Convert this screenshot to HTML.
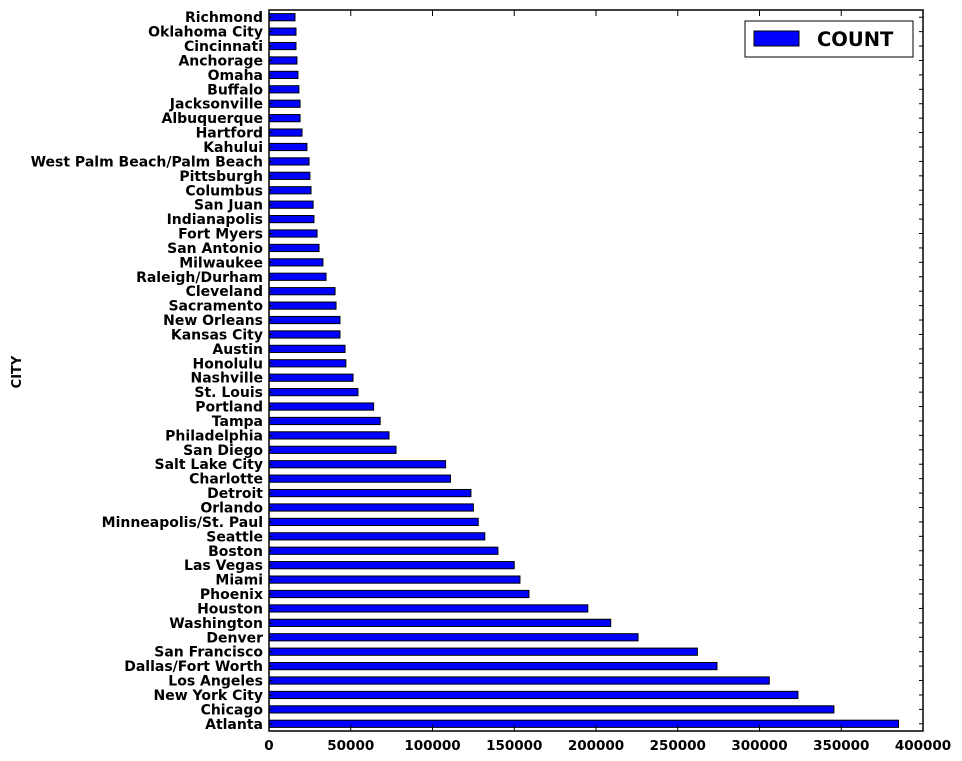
<!DOCTYPE html>
<html><head><meta charset="utf-8"><style>
html,body{margin:0;padding:0;background:#fff;}
svg{display:block;font-family:"DejaVu Sans",sans-serif;}
</style></head><body>
<svg id="chart" width="962" height="761"></svg>
<script>
const categories=["Atlanta","Chicago","New York City","Los Angeles","Dallas/Fort Worth","San Francisco","Denver","Washington","Houston","Phoenix","Miami","Las Vegas","Boston","Seattle","Minneapolis/St. Paul","Orlando","Detroit","Charlotte","Salt Lake City","San Diego","Philadelphia","Tampa","Portland","St. Louis","Nashville","Honolulu","Austin","Kansas City","New Orleans","Sacramento","Cleveland","Raleigh/Durham","Milwaukee","San Antonio","Fort Myers","Indianapolis","San Juan","Columbus","Pittsburgh","West Palm Beach/Palm Beach","Kahului","Hartford","Albuquerque","Jacksonville","Buffalo","Omaha","Anchorage","Cincinnati","Oklahoma City","Richmond"];
const counts=[385000,345500,323500,306000,274000,262000,225700,209000,195000,159000,153500,150000,140000,132000,128000,125000,123500,111000,108000,77700,73400,68000,64000,54400,51400,47000,46500,43400,43400,41000,40400,34900,33000,30600,29400,27500,27000,25700,25000,24500,23200,20200,19000,19000,18300,17700,17100,16500,16500,15900];
const xTicks=[0,50000,100000,150000,200000,250000,300000,350000,400000];
const X0=269,X1=923,Y0=10,Y1=731,XMAX=400000;
const NS="http://www.w3.org/2000/svg";
const svg=document.getElementById('chart');
function mk(t,a,p){const e=document.createElementNS(NS,t);for(const k in a)e.setAttribute(k,a[k]);(p||svg).appendChild(e);return e;}
const xs=v=>X0+(v/XMAX)*(X1-X0);
const n=categories.length, step=(Y1-Y0)/n;
const yc=i=>Y1-step*(i+0.5);
const bars=mk('g',{});


counts.forEach((v,i)=>{
 const r=mk('rect',{x:X0,y:yc(i)-step*0.25,width:xs(v)-X0,height:step*0.5,fill:'#0000ff',stroke:'#000','stroke-width':1},bars);
 
 
 const t=mk('text',{x:X0-6,y:yc(i)+5,'text-anchor':'end','font-size':14,'font-weight':'bold'});
 t.textContent=categories[i];
 
 
 mk('line',{x1:X0,x2:X0+4,y1:yc(i),y2:yc(i),stroke:'#000'});
 mk('line',{x1:X1,x2:X1-4,y1:yc(i),y2:yc(i),stroke:'#000'});
});
xTicks.forEach(v=>{
 const x=xs(v);
 mk('line',{x1:x,x2:x,y1:Y1,y2:Y1-6,stroke:'#000'});
 mk('line',{x1:x,x2:x,y1:Y0,y2:Y0+6,stroke:'#000'});
 const t=mk('text',{x:x,y:Y1+19,'text-anchor':'middle','font-size':13.5,'font-weight':'bold'});
 t.textContent=v;
 
 
});
const fr=mk('rect',{x:X0,y:Y0,width:X1-X0,height:Y1-Y0,fill:'none',stroke:'#000','stroke-width':1.5});


const yt=mk('text',{x:21,y:372,'text-anchor':'middle','font-size':13,'font-weight':'bold',transform:'rotate(-90 21 372)'});
yt.textContent='CITY';


const lg=mk('g',{});


mk('rect',{x:745,y:21,width:168,height:36,fill:'#fff',stroke:'#000'},lg);
const le=mk('rect',{x:754,y:31,width:45,height:15,fill:'#0000ff',stroke:'#000'},lg);


const lt=mk('text',{x:817,y:46,'font-size':19.5,'font-weight':'bold'},lg);
lt.textContent='COUNT';


</script>
</body></html>
